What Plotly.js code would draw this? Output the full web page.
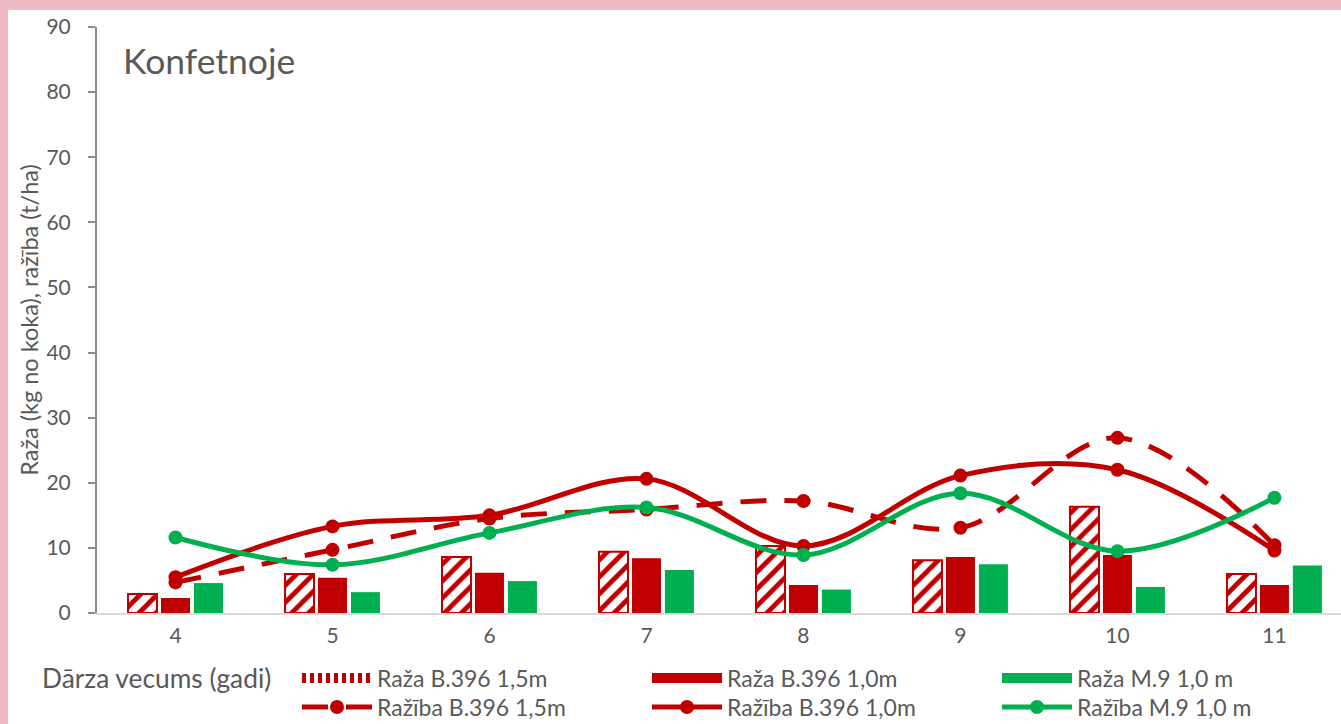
<!DOCTYPE html>
<html><head><meta charset="utf-8">
<script src="https://cdn.plot.ly/plotly-3.0.1.min.js"></script>
<style>
html,body{margin:0;padding:0;background:#efbac1;width:1341px;height:724px;overflow:hidden}
#chart{position:absolute;left:8px;top:10px;width:1333px;height:714px;background:#fff;overflow:hidden}
</style></head><body><div id="chart"></div>
<script>
// ---- data ----
const ages = [4, 5, 6, 7, 8, 9, 10, 11];
const tickLabels = ['4', '5', '6', '7', '8', '9', '10', '11'];
const razaB396_15 = [2.9, 6.0, 8.6, 9.4, 10.3, 8.1, 16.3, 6.0];
const razaB396_10 = [2.3, 5.4, 6.2, 8.4, 4.3, 8.6, 8.9, 4.3];
const razaM9_10 = [4.6, 3.2, 4.9, 6.6, 3.6, 7.5, 4.0, 7.3];
const razibaB396_15 = [4.7, 9.7, 14.5, 15.9, 17.2, 13.1, 26.9, 10.4];
const razibaB396_10 = [5.5, 13.3, 15.0, 20.6, 10.3, 21.1, 22.0, 9.6];
const razibaM9_10 = [11.6, 7.4, 12.3, 16.2, 8.9, 18.4, 9.5, 17.7];
const seriesNames = ['Raža B.396 1,5m', 'Raža B.396 1,0m', 'Raža M.9 1,0 m',
                     'Ražība B.396 1,5m', 'Ražība B.396 1,0m', 'Ražība M.9 1,0 m'];

const RED = '#c00000', GREEN = '#00b050', GREY = '#595959';
const FONT = 'Lato, "Open Sans", sans-serif';
const DASH = '26px,18px';

const traces = [
  // bars (legend entries drawn by the wide legend keys below)
  {type: 'bar', x: ages, y: razaB396_15, name: seriesNames[0], showlegend: false,
   marker: {color: '#ffffff', line: {color: RED, width: 2},
            pattern: {shape: '/', fgcolor: RED, bgcolor: '#ffffff', fgopacity: 1,
                      size: 12, solidity: 0.4, fillmode: 'replace'}}},
  {type: 'bar', x: ages, y: razaB396_10, name: seriesNames[1], showlegend: false, marker: {color: RED}},
  {type: 'bar', x: ages, y: razaM9_10, name: seriesNames[2], showlegend: false, marker: {color: GREEN}},
  // lines
  {type: 'scatter', mode: 'lines+markers', x: ages, y: razibaB396_15, name: seriesNames[3], legend: 'legend4',
   line: {color: RED, width: 5, shape: 'spline', dash: DASH}, marker: {color: RED, size: 14}},
  {type: 'scatter', mode: 'lines+markers', x: ages, y: razibaB396_10, name: seriesNames[4], legend: 'legend5',
   line: {color: RED, width: 5, shape: 'spline'}, marker: {color: RED, size: 14}},
  {type: 'scatter', mode: 'lines+markers', x: ages, y: razibaM9_10, name: seriesNames[5], legend: 'legend6',
   line: {color: GREEN, width: 5, shape: 'spline'}, marker: {color: GREEN, size: 14}},
  // wide legend keys for the bar series (no data points)
  {type: 'scatter', mode: 'lines', x: [null], y: [null], name: seriesNames[0], legend: 'legend',
   hoverinfo: 'skip', line: {color: RED, width: 15, dash: '4px,4px'}},
  {type: 'scatter', mode: 'lines', x: [null], y: [null], name: seriesNames[1], legend: 'legend2',
   hoverinfo: 'skip', line: {color: RED, width: 15}},
  {type: 'scatter', mode: 'lines', x: [null], y: [null], name: seriesNames[2], legend: 'legend3',
   hoverinfo: 'skip', line: {color: GREEN, width: 15}}
];

const PW = 1244, PH = 586, PL = 89, PB = 603;
function legendAt(divX, divTop) {
  return {orientation: 'v', xref: 'paper', yref: 'paper',
          x: (divX - PL) / PW, xanchor: 'left', y: (PB - divTop) / PH, yanchor: 'top',
          itemwidth: 70, bgcolor: 'rgba(0,0,0,0)',
          font: {family: FONT, size: 23, color: GREY}};
}

const layout = {
  width: 1333, height: 780,
  paper_bgcolor: '#ffffff', plot_bgcolor: '#ffffff',
  margin: {l: 89, r: 0, t: 17, b: 177},
  font: {family: FONT, color: GREY, size: 21},
  barmode: 'group', bargap: 0.37, bargroupgap: 0.12,
  title: {text: 'Konfetnoje', font: {family: FONT, size: 35.5, color: GREY},
          xref: 'container', x: 115 / 1333, xanchor: 'left',
          yref: 'container', y: 1 - 52 / 780, yanchor: 'middle'},
  xaxis: {range: [3.5, 11.424], tickvals: ages, ticktext: tickLabels,
          showline: true, linecolor: '#d9d9d9', linewidth: 2, ticks: '',
          showgrid: false, zeroline: false, ticklabelstandoff: 3,
          tickfont: {family: FONT, size: 21, color: GREY}},
  yaxis: {range: [0, 90], dtick: 10, showline: true, linecolor: '#8c8c8c', linewidth: 2,
          ticks: 'outside', ticklen: 7, tickwidth: 2, tickcolor: '#8c8c8c',
          showgrid: false, zeroline: false, ticklabelstandoff: 13,
          tickfont: {family: FONT, size: 21, color: GREY},
          title: {text: 'Raža (kg no koka), ražība (t/ha)', standoff: 1,
                  font: {family: FONT, size: 23.5, color: GREY}}},
  showlegend: true,
  legend: legendAt(289, 646.5),
  legend2: legendAt(639, 646.5),
  legend3: legendAt(989, 646.5),
  legend4: legendAt(289, 675.5),
  legend5: legendAt(639, 675.5),
  legend6: legendAt(989, 675.5),
  annotations: [{text: 'Dārza vecums (gadi)', xref: 'paper', yref: 'paper',
                 x: (32 - PL) / PW, y: (PB - 668) / PH, xanchor: 'left', yanchor: 'middle',
                 showarrow: false, font: {family: FONT, size: 26.3, color: GREY}}]
};

Plotly.newPlot('chart', traces, layout, {displayModeBar: false, staticPlot: true});
</script></body></html>
